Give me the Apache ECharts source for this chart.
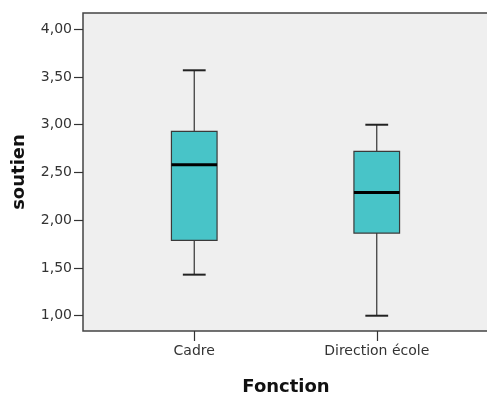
<!DOCTYPE html>
<html>
<head>
<meta charset="utf-8">
<script src="https://cdn.jsdelivr.net/npm/echarts@6/dist/echarts.min.js"></script>
<style>
  html, body { margin: 0; padding: 0; background: #fff; }
  #main { width: 487px; height: 394px; }
</style>
</head>
<body>
<div id="main"></div>
<script>
// boxplot stats
const categories = ['Cadre', 'Direction école'];
const whiskerLow = [1.43, 1.00];
const q1 = [1.79, 1.865];
const median = [2.58, 2.29];
const q3 = [2.93, 2.72];
const whiskerHigh = [3.57, 3.00];
const yTicks = [1, 1.5, 2, 2.5, 3, 3.5, 4];

const boxData = categories.map((c, i) => [i, whiskerLow[i], q1[i], median[i], q3[i], whiskerHigh[i]]);

function renderBox(params, api) {
  const i = api.value(0);
  const x = api.coord([i, 0])[0];
  const band = api.size([1, 0])[0];
  const half = band * 0.125;
  const capHalf = half / 2;
  const y = k => api.coord([i, api.value(k)])[1];
  const yLo = y(1), yQ1 = y(2), yMed = y(3), yQ3 = y(4), yHi = y(5);
  const line = (x1, y1, x2, y2, w, c) => ({
    type: 'line',
    shape: { x1: x1, y1: y1, x2: x2, y2: y2 },
    style: { stroke: c, lineWidth: w }
  });
  return {
    type: 'group',
    children: [
      line(x, yHi, x, yQ3, 1.2, '#333'),
      line(x, yQ1, x, yLo, 1.2, '#333'),
      line(x - capHalf, yHi, x + capHalf, yHi, 2, '#222'),
      line(x - capHalf, yLo, x + capHalf, yLo, 2, '#222'),
      {
        type: 'rect',
        shape: { x: x - half, y: yQ3, width: half * 2, height: yQ1 - yQ3 },
        style: { fill: '#48c4c8', stroke: '#3a3a3a', lineWidth: 1.2 }
      },
      line(x - half, yMed, x + half, yMed, 3, '#000')
    ]
  };
}

const chart = echarts.init(document.getElementById('main'));
const font = '"DejaVu Sans", Verdana, sans-serif';
const txt = { color: '#333', fontFamily: font, fontSize: 14 };
const nameTxt = { color: '#111', fontWeight: 'bold', fontSize: 18, fontFamily: font };

chart.setOption({
  animation: false,
  grid: [
    { left: 83, right: -2, top: 13, bottom: 63, show: true, outerBoundsMode: 'none',
      backgroundColor: '#efefef', borderColor: '#444', borderWidth: 1.5 },
    { left: 103, right: 19, top: 13, bottom: 63, outerBoundsMode: 'none' }
  ],
  xAxis: [
    {
      gridIndex: 0, type: 'value', min: 0, max: 1,
      name: 'Fonction', nameLocation: 'middle', nameGap: 47,
      nameTextStyle: nameTxt,
      axisLine: { show: false }, axisTick: { show: false },
      axisLabel: { show: false }, splitLine: { show: false }
    },
    {
      gridIndex: 1, type: 'category', data: categories,
      axisLine: { show: false },
      axisTick: { show: true, alignWithLabel: true, length: 10, lineStyle: { color: '#333', width: 1.2 } },
      axisLabel: Object.assign({ margin: 13 }, txt),
      splitLine: { show: false }
    }
  ],
  yAxis: [
    {
      gridIndex: 0, type: 'value', min: 0.84, max: 4.17,
      axisLine: { show: false }, axisTick: { show: false },
      axisLabel: { show: false }, splitLine: { show: false }
    },
    {
      gridIndex: 1, type: 'value', min: 0.84, max: 4.17, offset: 20,
      name: 'soutien', nameLocation: 'middle', nameGap: 55,
      nameTextStyle: nameTxt,
      axisLine: { show: false },
      axisTick: { show: true, length: 9, customValues: yTicks, lineStyle: { color: '#333', width: 1.2 } },
      axisLabel: Object.assign({
        margin: 11, customValues: yTicks,
        formatter: v => v.toFixed(2).replace('.', ',')
      }, txt),
      splitLine: { show: false }
    }
  ],
  series: [{
    type: 'custom',
    xAxisIndex: 1,
    yAxisIndex: 1,
    renderItem: renderBox,
    encode: { x: 0, y: [1, 2, 3, 4, 5] },
    data: boxData
  }]
});
</script>
</body>
</html>
